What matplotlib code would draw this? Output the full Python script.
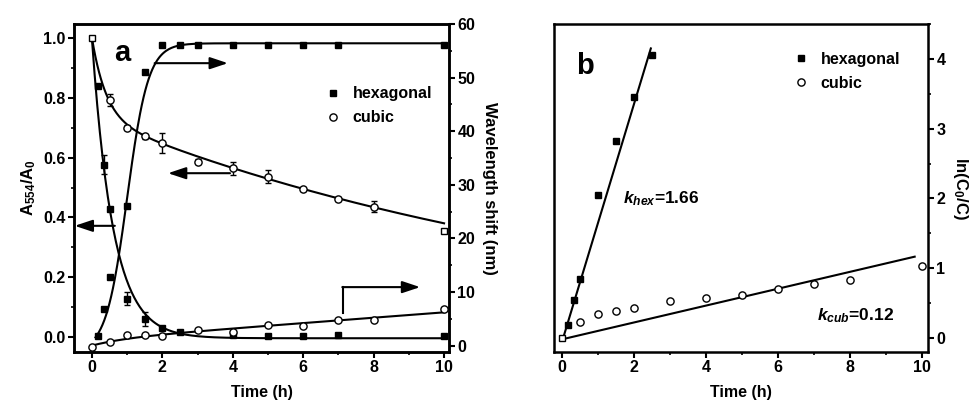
import numpy as np
import matplotlib.pyplot as plt
from matplotlib.ticker import MultipleLocator

plt.rcParams['font.family'] = ['Liberation Sans', 'DejaVu Sans']
plt.rcParams['font.weight'] = 'bold'
plt.rcParams['mathtext.fontset'] = 'custom'
plt.rcParams['mathtext.rm'] = 'Liberation Sans:bold'
plt.rcParams['mathtext.it'] = 'Liberation Sans:italic:bold'
plt.rcParams['mathtext.bf'] = 'Liberation Sans:bold'

# ---- panel a: normalised absorbance (left axis) ----
hex_abs_t = [0, 0.17, 0.33, 0.5, 1, 1.5, 2, 2.5, 4, 5, 6, 7, 10]
hex_abs = [1.0, 0.84, 0.577, 0.428, 0.128, 0.06, 0.03, 0.017, 0.007, 0.005, 0.005, 0.006, 0.005]
hex_abs_err = [0, 0.008, 0.033, 0.008, 0.022, 0.024, 0.006, 0.004, 0.004, 0, 0, 0, 0]

cub_abs_t = [0, 0.5, 1, 1.5, 2, 3, 4, 5, 6, 7, 8, 10]
cub_abs = [1.0, 0.793, 0.70, 0.672, 0.65, 0.586, 0.564, 0.536, 0.495, 0.462, 0.436, 0.355]
cub_abs_err = [0, 0.019, 0.008, 0.008, 0.033, 0.008, 0.022, 0.022, 0.008, 0.008, 0.018, 0.008]

# ---- panel a: wavelength shift in nm (right axis) ----
hex_shift_t = [0.17, 0.33, 0.5, 1, 1.5, 2, 2.5, 3, 4, 5, 6, 7, 10]
hex_shift = [1.8, 6.8, 12.8, 26.0, 51.1, 56.1, 56.1, 56.1, 56.1, 56.1, 56.1, 56.1, 56.1]

cub_shift_t = [0, 0.5, 1, 1.5, 2, 3, 4, 5, 6, 7, 8, 10]
cub_shift = [-0.2, 0.7, 2.0, 2.0, 1.7, 2.9, 2.6, 3.85, 3.7, 4.8, 4.7, 6.9]

# fit curves of panel a (parameters)
k_hex_decay = 1.66
cub_decay_fast, cub_tau_fast, cub_decay_slow, cub_k_slow = 0.264, 0.4, 0.736, 0.066
sig_a1, sig_a2, sig_t0, sig_dx = -1.2, 56.4, 1.0, 0.3
cub_rise_a, cub_rise_tau, cub_rise_b = 1.2, 1.0, 0.5

# ---- panel b: ln(C0/C) ----
hex_ln_t = [0, 0.17, 0.33, 0.5, 1, 1.5, 2, 2.5]
hex_ln = [0, 0.19, 0.55, 0.85, 2.05, 2.82, 3.45, 4.06]
cub_ln_t = [0, 0.5, 1, 1.5, 2, 3, 4, 5, 6, 7, 8, 10]
cub_ln = [0, 0.23, 0.35, 0.39, 0.43, 0.53, 0.57, 0.62, 0.70, 0.77, 0.83, 1.03]
hex_fit_t, hex_fit_y = [0.04, 2.47], [0.01, 4.15]
cub_fit_t, cub_fit_y = [0.04, 9.80], [-0.014, 1.166]

LW = 1.5
SQ, CI = 4.8, 5.2
fig = plt.figure(figsize=(9.75, 4.05), dpi=100)
ax = fig.add_axes([74 / 975, 53 / 405, 375 / 975, 328 / 405])
ax2 = ax.twinx()
bx = fig.add_axes([554 / 975, 53 / 405, 374 / 975, 328 / 405])

# ----- panel a -----
tt = np.linspace(0, 10, 400)
ax.plot(tt, np.exp(-k_hex_decay * tt) - 0.004, 'k-', lw=LW)
ax.plot(tt, cub_decay_fast * np.exp(-tt / cub_tau_fast) + cub_decay_slow * np.exp(-cub_k_slow * tt), 'k-', lw=LW)
ts = np.linspace(0.1, 10, 400)
ax2.plot(ts, sig_a2 + (sig_a1 - sig_a2) / (1 + np.exp((ts - sig_t0) / sig_dx)), 'k-', lw=LW)
ax2.plot(tt, cub_rise_a * (1 - np.exp(-tt / cub_rise_tau)) + cub_rise_b * tt, 'k-', lw=LW)

ax.errorbar(hex_abs_t[1:], hex_abs[1:], yerr=hex_abs_err[1:], fmt='s', ms=SQ, mfc='k', mec='k',
            ecolor='k', elinewidth=1, capsize=2.2, zorder=3)
ax.errorbar(cub_abs_t[1:-1], cub_abs[1:-1], yerr=cub_abs_err[1:-1], fmt='o', ms=CI, mfc='white',
            mec='k', mew=1, ecolor='k', elinewidth=1, capsize=2.2, zorder=3)
ax.plot(hex_abs_t[:1], hex_abs[:1], 's', ms=SQ, mfc='white', mec='k', mew=1, zorder=4)
ax.plot(cub_abs_t[-1:], cub_abs[-1:], 's', ms=SQ, mfc='white', mec='k', mew=1, zorder=4)
ax2.plot(hex_shift_t, hex_shift, 's', ms=SQ, mfc='k', mec='k', zorder=3)
ax2.plot(cub_shift_t, cub_shift, 'o', ms=CI, mfc='white', mec='k', mew=1, zorder=3)

# legend handles for panel a
ax.plot([], [], 's', ms=SQ, color='k', label='hexagonal')
ax.plot([], [], 'o', ms=CI, mfc='white', mec='k', mew=1, label='cubic')
h, l = ax.get_legend_handles_labels()
ax.legend(h[-2:], l[-2:], loc='upper left', bbox_to_anchor=(0.67, 0.81), frameon=False,
          handlelength=1.0, handletextpad=0.7, labelspacing=0.55, fontsize=11.5,
          borderaxespad=0, borderpad=0)

# arrows of panel a (left-axis units)
arrow_kw = dict(arrowstyle='-|>,head_length=0.9,head_width=0.3', color='k', lw=LW,
                mutation_scale=12, shrinkA=0, shrinkB=0)
ax.annotate('', xy=(3.86, 0.916), xytext=(1.78, 0.916), arrowprops=arrow_kw)
ax.annotate('', xy=(2.16, 0.548), xytext=(3.92, 0.548), arrowprops=arrow_kw)
ax.annotate('', xy=(-0.49, 0.372), xytext=(0.65, 0.372), arrowprops=arrow_kw)
ax.plot([7.13, 7.13], [0.08, 0.167], 'k-', lw=LW)
ax.annotate('', xy=(9.32, 0.167), xytext=(7.13 - 0.02, 0.167), arrowprops=arrow_kw)

ax.text(0.85, 0.95, 'a', fontsize=21, fontweight='bold', ha='center', va='center')

ax.set_xlim(-0.51, 10.14)
ax.set_ylim(-0.05, 1.047)
ax2.set_ylim(-1.2, 60)
ax.xaxis.set_major_locator(MultipleLocator(2))
ax.xaxis.set_minor_locator(MultipleLocator(1))
ax.yaxis.set_major_locator(MultipleLocator(0.2))
ax.yaxis.set_minor_locator(MultipleLocator(0.1))
ax2.yaxis.set_major_locator(MultipleLocator(10))
ax2.yaxis.set_minor_locator(MultipleLocator(5))
ax.yaxis.set_major_formatter(plt.FuncFormatter(lambda v, p: f'{v:.1f}'))
ax.set_xlabel('Time (h)', fontsize=11.5, fontweight='bold', labelpad=7)
ax.set_ylabel(r'A$_{\mathrm{554}}$/A$_{\mathrm{0}}$', fontsize=12, fontweight='bold', labelpad=4)
ax2.set_ylabel('Wavelength shift (nm)', fontsize=12, fontweight='bold', rotation=270, labelpad=16)

# ----- panel b -----
bx.plot(hex_fit_t, hex_fit_y, 'k-', lw=LW)
bx.plot(cub_fit_t, cub_fit_y, 'k-', lw=LW)
bx.plot(hex_ln_t[1:], hex_ln[1:], 's', ms=SQ, color='k', label='hexagonal', zorder=3)
bx.plot(cub_ln_t[1:], cub_ln[1:], 'o', ms=CI, mfc='white', mec='k', mew=1, label='cubic', zorder=3)
bx.plot(hex_ln_t[:1], hex_ln[:1], 's', ms=SQ, mfc='white', mec='k', mew=1, zorder=4)
bx.legend(loc='upper left', bbox_to_anchor=(0.64, 0.915), frameon=False,
          handlelength=1.0, handletextpad=0.7, labelspacing=0.55, fontsize=11.5,
          borderaxespad=0, borderpad=0)
bx.text(1.69, 2.0, r'$k_{hex}$=1.66', fontsize=12.5, fontweight='bold', ha='left', va='center')
bx.text(7.08, 0.315, r'$k_{cub}$=0.12', fontsize=12.5, fontweight='bold', ha='left', va='center')
bx.text(0.65, 3.9, 'b', fontsize=21, fontweight='bold', ha='center', va='center')

bx.set_xlim(-0.22, 10.17)
bx.set_ylim(-0.2, 4.5)
bx.xaxis.set_major_locator(MultipleLocator(2))
bx.xaxis.set_minor_locator(MultipleLocator(1))
bx.yaxis.set_major_locator(MultipleLocator(1))
bx.yaxis.set_minor_locator(MultipleLocator(0.5))
bx.yaxis.tick_right()
bx.yaxis.set_label_position('right')
bx.set_xlabel('Time (h)', fontsize=11.5, fontweight='bold', labelpad=7)
bx.set_ylabel(r'ln(C$_{\mathrm{0}}$/C)', fontsize=12, fontweight='bold', rotation=270, labelpad=18)

for a in (ax, ax2, bx):
    for s in a.spines.values():
        s.set_linewidth(1.8)
    a.tick_params(which='major', direction='out', length=4, width=1.5, labelsize=11.5, pad=2)
    a.tick_params(which='minor', direction='out', length=2.5, width=1.2)
    for lab in a.get_xticklabels() + a.get_yticklabels():
        lab.set_fontweight('bold')
ax.tick_params(top=False, right=False, which='both')
bx.tick_params(left=False, top=False, which='both')

fig.savefig('out.png', dpi=100)
